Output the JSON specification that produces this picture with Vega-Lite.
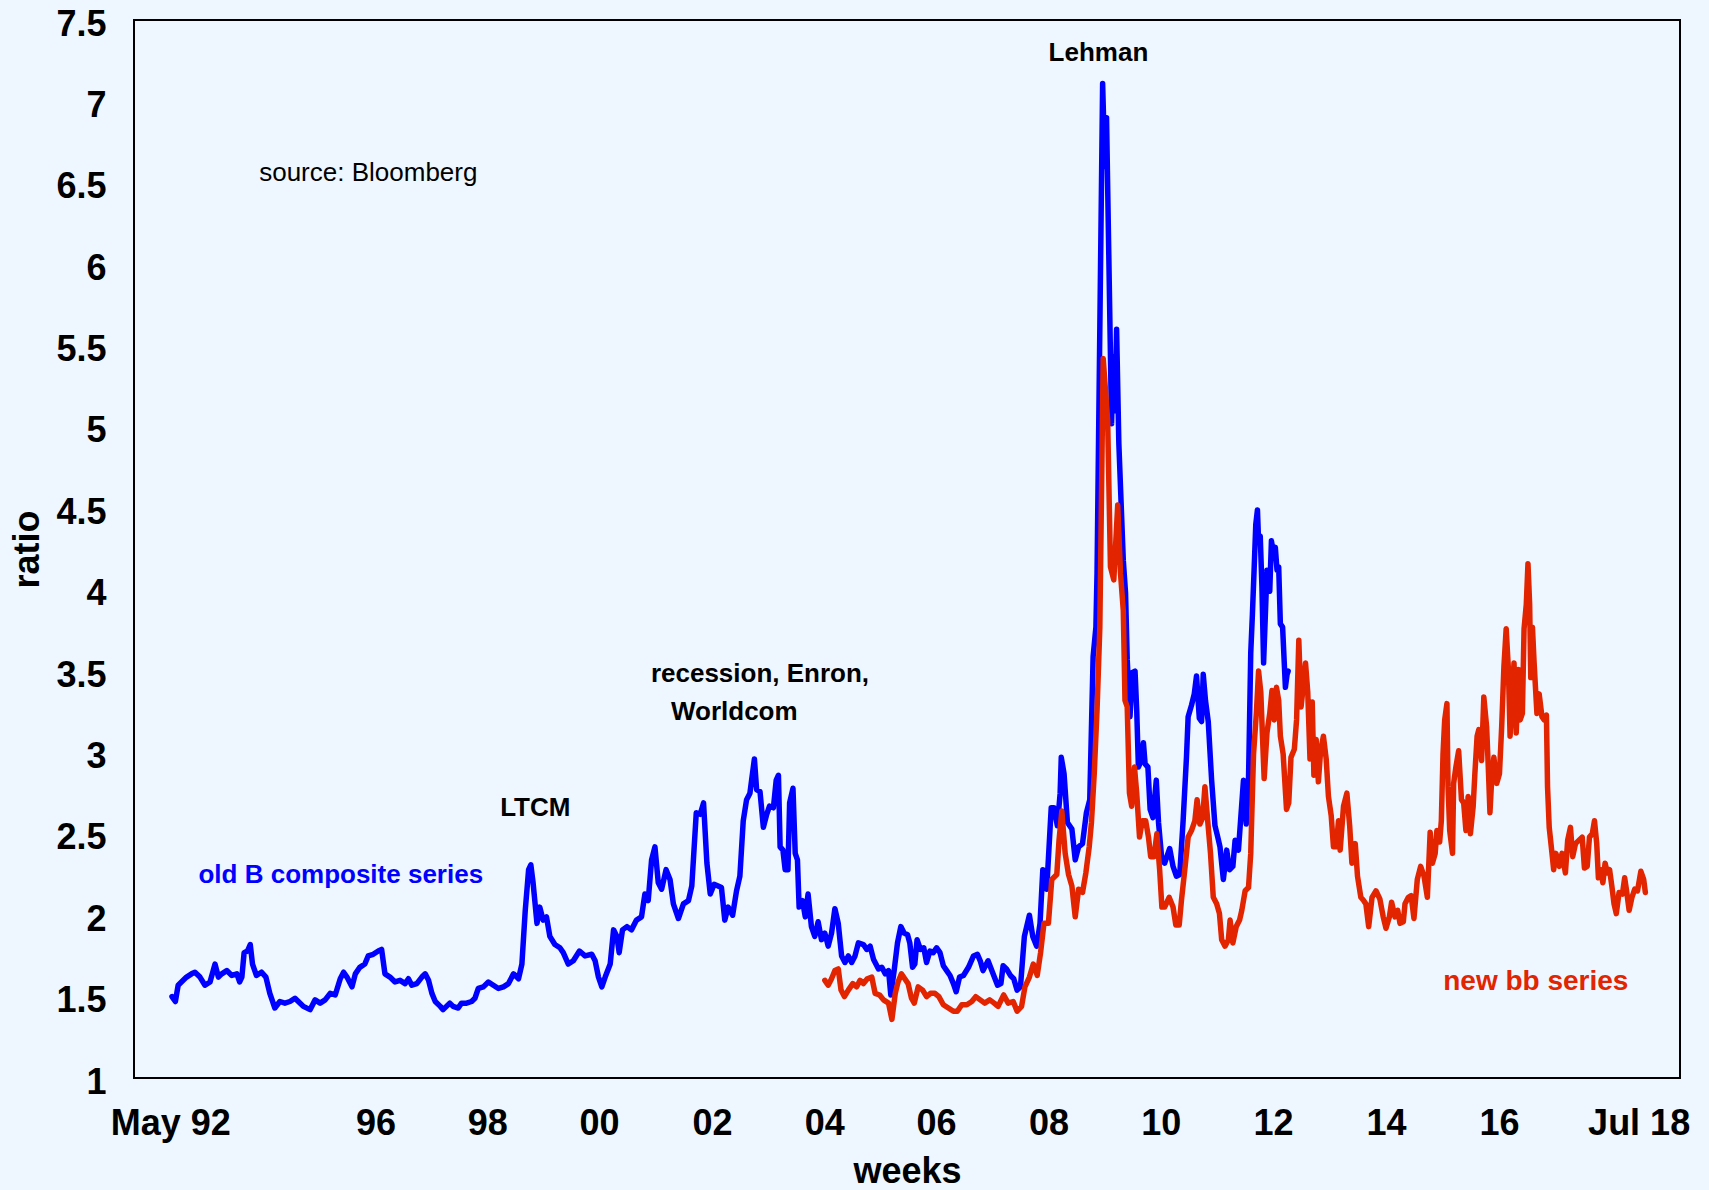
{
  "$schema": "https://vega.github.io/schema/vega-lite/v6.json",
  "width": 1546,
  "height": 1058,
  "autosize": {"type": "none"},
  "padding": {"left": 134, "top": 20, "right": 29, "bottom": 112},
  "background": "#eef7ff",
  "config": {"view": {"stroke": "#000000", "strokeWidth": 2}, "font": "Liberation Sans"},
  "datasets": {
    "old": [
      {"year":1992.36,"ratio":1.50},{"year":1992.42,"ratio":1.47},{"year":1992.47,"ratio":1.57},{"year":1992.56,"ratio":1.60},{"year":1992.62,"ratio":1.62},{"year":1992.71,"ratio":1.64},{"year":1992.77,"ratio":1.65},{"year":1992.86,"ratio":1.62},{"year":1992.95,"ratio":1.57},{"year":1993.04,"ratio":1.59},{"year":1993.13,"ratio":1.70},{"year":1993.19,"ratio":1.62},{"year":1993.25,"ratio":1.64},{"year":1993.34,"ratio":1.66},{"year":1993.43,"ratio":1.63},{"year":1993.52,"ratio":1.64},{"year":1993.57,"ratio":1.59},{"year":1993.61,"ratio":1.62},{"year":1993.65,"ratio":1.77},{"year":1993.71,"ratio":1.78},{"year":1993.76,"ratio":1.82},{"year":1993.80,"ratio":1.70},{"year":1993.87,"ratio":1.63},{"year":1993.96,"ratio":1.65},{"year":1994.04,"ratio":1.62},{"year":1994.11,"ratio":1.52},{"year":1994.20,"ratio":1.43},{"year":1994.29,"ratio":1.47},{"year":1994.38,"ratio":1.46},{"year":1994.47,"ratio":1.47},{"year":1994.56,"ratio":1.49},{"year":1994.62,"ratio":1.47},{"year":1994.71,"ratio":1.44},{"year":1994.83,"ratio":1.42},{"year":1994.92,"ratio":1.48},{"year":1995.01,"ratio":1.46},{"year":1995.10,"ratio":1.48},{"year":1995.19,"ratio":1.52},{"year":1995.28,"ratio":1.51},{"year":1995.37,"ratio":1.61},{"year":1995.43,"ratio":1.65},{"year":1995.49,"ratio":1.62},{"year":1995.58,"ratio":1.56},{"year":1995.64,"ratio":1.64},{"year":1995.72,"ratio":1.68},{"year":1995.81,"ratio":1.70},{"year":1995.87,"ratio":1.75},{"year":1995.96,"ratio":1.76},{"year":1996.05,"ratio":1.78},{"year":1996.11,"ratio":1.79},{"year":1996.17,"ratio":1.64},{"year":1996.26,"ratio":1.62},{"year":1996.35,"ratio":1.59},{"year":1996.44,"ratio":1.60},{"year":1996.53,"ratio":1.58},{"year":1996.59,"ratio":1.61},{"year":1996.65,"ratio":1.57},{"year":1996.74,"ratio":1.58},{"year":1996.83,"ratio":1.62},{"year":1996.89,"ratio":1.64},{"year":1996.95,"ratio":1.60},{"year":1997.01,"ratio":1.52},{"year":1997.07,"ratio":1.47},{"year":1997.16,"ratio":1.44},{"year":1997.21,"ratio":1.42},{"year":1997.27,"ratio":1.44},{"year":1997.33,"ratio":1.46},{"year":1997.39,"ratio":1.44},{"year":1997.48,"ratio":1.43},{"year":1997.54,"ratio":1.46},{"year":1997.63,"ratio":1.46},{"year":1997.72,"ratio":1.47},{"year":1997.78,"ratio":1.49},{"year":1997.84,"ratio":1.55},{"year":1997.93,"ratio":1.56},{"year":1998.02,"ratio":1.59},{"year":1998.11,"ratio":1.57},{"year":1998.20,"ratio":1.55},{"year":1998.29,"ratio":1.56},{"year":1998.38,"ratio":1.58},{"year":1998.47,"ratio":1.64},{"year":1998.56,"ratio":1.61},{"year":1998.62,"ratio":1.70},{"year":1998.68,"ratio":2.03},{"year":1998.74,"ratio":2.28},{"year":1998.78,"ratio":2.31},{"year":1998.82,"ratio":2.20},{"year":1998.89,"ratio":1.95},{"year":1998.94,"ratio":2.05},{"year":1999.00,"ratio":1.97},{"year":1999.06,"ratio":1.99},{"year":1999.12,"ratio":1.87},{"year":1999.21,"ratio":1.82},{"year":1999.30,"ratio":1.80},{"year":1999.36,"ratio":1.77},{"year":1999.45,"ratio":1.70},{"year":1999.54,"ratio":1.72},{"year":1999.65,"ratio":1.78},{"year":1999.75,"ratio":1.75},{"year":1999.87,"ratio":1.76},{"year":1999.93,"ratio":1.72},{"year":1999.99,"ratio":1.62},{"year":2000.05,"ratio":1.56},{"year":2000.11,"ratio":1.62},{"year":2000.20,"ratio":1.70},{"year":2000.26,"ratio":1.91},{"year":2000.32,"ratio":1.87},{"year":2000.36,"ratio":1.77},{"year":2000.42,"ratio":1.91},{"year":2000.50,"ratio":1.93},{"year":2000.58,"ratio":1.91},{"year":2000.67,"ratio":1.97},{"year":2000.76,"ratio":1.99},{"year":2000.82,"ratio":2.13},{"year":2000.88,"ratio":2.09},{"year":2000.94,"ratio":2.34},{"year":2001.00,"ratio":2.42},{"year":2001.06,"ratio":2.20},{"year":2001.12,"ratio":2.16},{"year":2001.20,"ratio":2.28},{"year":2001.27,"ratio":2.22},{"year":2001.33,"ratio":2.07},{"year":2001.42,"ratio":1.98},{"year":2001.51,"ratio":2.07},{"year":2001.60,"ratio":2.09},{"year":2001.66,"ratio":2.18},{"year":2001.74,"ratio":2.63},{"year":2001.81,"ratio":2.62},{"year":2001.87,"ratio":2.69},{"year":2001.93,"ratio":2.32},{"year":2001.99,"ratio":2.13},{"year":2002.06,"ratio":2.19},{"year":2002.13,"ratio":2.18},{"year":2002.19,"ratio":2.17},{"year":2002.25,"ratio":1.97},{"year":2002.31,"ratio":2.05},{"year":2002.39,"ratio":2.00},{"year":2002.46,"ratio":2.15},{"year":2002.52,"ratio":2.24},{"year":2002.58,"ratio":2.58},{"year":2002.64,"ratio":2.71},{"year":2002.70,"ratio":2.75},{"year":2002.73,"ratio":2.83},{"year":2002.78,"ratio":2.96},{"year":2002.82,"ratio":2.77},{"year":2002.88,"ratio":2.76},{"year":2002.94,"ratio":2.54},{"year":2003.00,"ratio":2.62},{"year":2003.05,"ratio":2.67},{"year":2003.12,"ratio":2.66},{"year":2003.17,"ratio":2.83},{"year":2003.21,"ratio":2.86},{"year":2003.24,"ratio":2.42},{"year":2003.29,"ratio":2.40},{"year":2003.33,"ratio":2.28},{"year":2003.38,"ratio":2.28},{"year":2003.41,"ratio":2.69},{"year":2003.47,"ratio":2.78},{"year":2003.51,"ratio":2.38},{"year":2003.55,"ratio":2.34},{"year":2003.58,"ratio":2.05},{"year":2003.64,"ratio":2.09},{"year":2003.69,"ratio":1.99},{"year":2003.74,"ratio":2.13},{"year":2003.80,"ratio":1.93},{"year":2003.86,"ratio":1.87},{"year":2003.92,"ratio":1.96},{"year":2003.98,"ratio":1.85},{"year":2004.04,"ratio":1.89},{"year":2004.10,"ratio":1.81},{"year":2004.16,"ratio":1.89},{"year":2004.22,"ratio":2.04},{"year":2004.28,"ratio":1.95},{"year":2004.34,"ratio":1.75},{"year":2004.40,"ratio":1.71},{"year":2004.46,"ratio":1.75},{"year":2004.52,"ratio":1.71},{"year":2004.58,"ratio":1.75},{"year":2004.64,"ratio":1.83},{"year":2004.73,"ratio":1.82},{"year":2004.79,"ratio":1.79},{"year":2004.85,"ratio":1.81},{"year":2004.91,"ratio":1.73},{"year":2005.00,"ratio":1.67},{"year":2005.06,"ratio":1.68},{"year":2005.12,"ratio":1.64},{"year":2005.18,"ratio":1.66},{"year":2005.22,"ratio":1.51},{"year":2005.28,"ratio":1.66},{"year":2005.34,"ratio":1.83},{"year":2005.40,"ratio":1.93},{"year":2005.46,"ratio":1.89},{"year":2005.52,"ratio":1.88},{"year":2005.56,"ratio":1.83},{"year":2005.61,"ratio":1.68},{"year":2005.65,"ratio":1.70},{"year":2005.69,"ratio":1.85},{"year":2005.75,"ratio":1.79},{"year":2005.81,"ratio":1.80},{"year":2005.86,"ratio":1.71},{"year":2005.92,"ratio":1.78},{"year":2005.98,"ratio":1.77},{"year":2006.04,"ratio":1.80},{"year":2006.10,"ratio":1.77},{"year":2006.16,"ratio":1.69},{"year":2006.22,"ratio":1.66},{"year":2006.28,"ratio":1.63},{"year":2006.34,"ratio":1.58},{"year":2006.39,"ratio":1.53},{"year":2006.45,"ratio":1.62},{"year":2006.52,"ratio":1.63},{"year":2006.61,"ratio":1.68},{"year":2006.70,"ratio":1.75},{"year":2006.77,"ratio":1.76},{"year":2006.82,"ratio":1.72},{"year":2006.87,"ratio":1.66},{"year":2006.96,"ratio":1.72},{"year":2007.05,"ratio":1.64},{"year":2007.13,"ratio":1.57},{"year":2007.19,"ratio":1.58},{"year":2007.23,"ratio":1.69},{"year":2007.29,"ratio":1.67},{"year":2007.36,"ratio":1.63},{"year":2007.42,"ratio":1.61},{"year":2007.48,"ratio":1.54},{"year":2007.54,"ratio":1.56},{"year":2007.61,"ratio":1.87},{"year":2007.70,"ratio":2.00},{"year":2007.76,"ratio":1.87},{"year":2007.83,"ratio":1.81},{"year":2007.89,"ratio":1.95},{"year":2007.94,"ratio":2.28},{"year":2008.01,"ratio":2.16},{"year":2008.09,"ratio":2.66},{"year":2008.14,"ratio":2.66},{"year":2008.20,"ratio":2.55},{"year":2008.25,"ratio":2.75},{"year":2008.27,"ratio":2.97},{"year":2008.32,"ratio":2.87},{"year":2008.38,"ratio":2.57},{"year":2008.46,"ratio":2.53},{"year":2008.52,"ratio":2.34},{"year":2008.58,"ratio":2.42},{"year":2008.65,"ratio":2.44},{"year":2008.72,"ratio":2.63},{"year":2008.78,"ratio":2.71},{"year":2008.84,"ratio":3.59},{"year":2008.89,"ratio":3.77},{"year":2008.91,"ratio":4.10},{"year":2009.01,"ratio":7.11},{"year":2009.05,"ratio":6.60},{"year":2009.08,"ratio":6.90},{"year":2009.17,"ratio":5.02},{"year":2009.20,"ratio":5.43},{"year":2009.23,"ratio":5.10},{"year":2009.26,"ratio":5.60},{"year":2009.30,"ratio":4.90},{"year":2009.38,"ratio":4.18},{"year":2009.42,"ratio":3.98},{"year":2009.45,"ratio":3.57},{"year":2009.50,"ratio":3.22},{"year":2009.54,"ratio":3.49},{"year":2009.59,"ratio":3.50},{"year":2009.62,"ratio":3.26},{"year":2009.65,"ratio":2.91},{"year":2009.69,"ratio":2.94},{"year":2009.74,"ratio":3.06},{"year":2009.77,"ratio":2.93},{"year":2009.82,"ratio":2.91},{"year":2009.86,"ratio":2.65},{"year":2009.91,"ratio":2.60},{"year":2009.97,"ratio":2.83},{"year":2010.01,"ratio":2.57},{"year":2010.07,"ratio":2.34},{"year":2010.12,"ratio":2.32},{"year":2010.21,"ratio":2.41},{"year":2010.27,"ratio":2.30},{"year":2010.33,"ratio":2.24},{"year":2010.39,"ratio":2.25},{"year":2010.45,"ratio":2.58},{"year":2010.51,"ratio":2.97},{"year":2010.54,"ratio":3.22},{"year":2010.60,"ratio":3.29},{"year":2010.65,"ratio":3.36},{"year":2010.69,"ratio":3.47},{"year":2010.74,"ratio":3.21},{"year":2010.78,"ratio":3.19},{"year":2010.81,"ratio":3.48},{"year":2010.85,"ratio":3.32},{"year":2010.90,"ratio":3.19},{"year":2010.96,"ratio":2.83},{"year":2011.02,"ratio":2.55},{"year":2011.07,"ratio":2.48},{"year":2011.11,"ratio":2.42},{"year":2011.17,"ratio":2.22},{"year":2011.23,"ratio":2.40},{"year":2011.28,"ratio":2.28},{"year":2011.34,"ratio":2.30},{"year":2011.38,"ratio":2.46},{"year":2011.44,"ratio":2.40},{"year":2011.53,"ratio":2.83},{"year":2011.58,"ratio":2.56},{"year":2011.62,"ratio":2.83},{"year":2011.66,"ratio":3.61},{"year":2011.69,"ratio":3.85},{"year":2011.72,"ratio":4.12},{"year":2011.75,"ratio":4.40},{"year":2011.78,"ratio":4.49},{"year":2011.80,"ratio":4.30},{"year":2011.83,"ratio":4.33},{"year":2011.86,"ratio":4.02},{"year":2011.89,"ratio":3.55},{"year":2011.92,"ratio":3.83},{"year":2011.95,"ratio":4.12},{"year":2012.00,"ratio":3.99},{"year":2012.03,"ratio":4.30},{"year":2012.07,"ratio":4.22},{"year":2012.10,"ratio":4.26},{"year":2012.13,"ratio":4.12},{"year":2012.16,"ratio":4.14},{"year":2012.19,"ratio":3.79},{"year":2012.23,"ratio":3.77},{"year":2012.28,"ratio":3.40},{"year":2012.31,"ratio":3.48},{"year":2012.33,"ratio":3.50}
    ],
    "new": [
      {"year":2004.04,"ratio":1.60},{"year":2004.10,"ratio":1.57},{"year":2004.16,"ratio":1.61},{"year":2004.22,"ratio":1.66},{"year":2004.28,"ratio":1.67},{"year":2004.33,"ratio":1.54},{"year":2004.39,"ratio":1.50},{"year":2004.46,"ratio":1.54},{"year":2004.54,"ratio":1.58},{"year":2004.61,"ratio":1.56},{"year":2004.67,"ratio":1.60},{"year":2004.73,"ratio":1.58},{"year":2004.80,"ratio":1.61},{"year":2004.88,"ratio":1.62},{"year":2004.94,"ratio":1.52},{"year":2005.02,"ratio":1.51},{"year":2005.09,"ratio":1.48},{"year":2005.18,"ratio":1.46},{"year":2005.24,"ratio":1.36},{"year":2005.30,"ratio":1.52},{"year":2005.35,"ratio":1.59},{"year":2005.41,"ratio":1.64},{"year":2005.47,"ratio":1.61},{"year":2005.53,"ratio":1.58},{"year":2005.59,"ratio":1.49},{"year":2005.64,"ratio":1.46},{"year":2005.71,"ratio":1.56},{"year":2005.79,"ratio":1.54},{"year":2005.86,"ratio":1.50},{"year":2005.93,"ratio":1.52},{"year":2006.01,"ratio":1.52},{"year":2006.08,"ratio":1.50},{"year":2006.16,"ratio":1.45},{"year":2006.25,"ratio":1.43},{"year":2006.34,"ratio":1.41},{"year":2006.41,"ratio":1.41},{"year":2006.49,"ratio":1.45},{"year":2006.58,"ratio":1.45},{"year":2006.67,"ratio":1.47},{"year":2006.74,"ratio":1.50},{"year":2006.82,"ratio":1.48},{"year":2006.90,"ratio":1.46},{"year":2006.99,"ratio":1.48},{"year":2007.07,"ratio":1.46},{"year":2007.14,"ratio":1.44},{"year":2007.24,"ratio":1.51},{"year":2007.32,"ratio":1.46},{"year":2007.41,"ratio":1.47},{"year":2007.48,"ratio":1.41},{"year":2007.56,"ratio":1.44},{"year":2007.62,"ratio":1.56},{"year":2007.70,"ratio":1.62},{"year":2007.77,"ratio":1.70},{"year":2007.84,"ratio":1.63},{"year":2007.90,"ratio":1.77},{"year":2007.96,"ratio":1.95},{"year":2008.04,"ratio":1.95},{"year":2008.10,"ratio":2.22},{"year":2008.19,"ratio":2.25},{"year":2008.23,"ratio":2.46},{"year":2008.28,"ratio":2.64},{"year":2008.34,"ratio":2.38},{"year":2008.40,"ratio":2.25},{"year":2008.46,"ratio":2.18},{"year":2008.52,"ratio":1.99},{"year":2008.58,"ratio":2.16},{"year":2008.65,"ratio":2.14},{"year":2008.71,"ratio":2.26},{"year":2008.77,"ratio":2.42},{"year":2008.81,"ratio":2.57},{"year":2008.86,"ratio":2.87},{"year":2008.91,"ratio":3.26},{"year":2008.96,"ratio":3.77},{"year":2009.02,"ratio":5.42},{"year":2009.10,"ratio":5.04},{"year":2009.15,"ratio":4.14},{"year":2009.21,"ratio":4.06},{"year":2009.28,"ratio":4.52},{"year":2009.33,"ratio":4.10},{"year":2009.38,"ratio":3.87},{"year":2009.41,"ratio":3.32},{"year":2009.45,"ratio":3.28},{"year":2009.49,"ratio":2.75},{"year":2009.53,"ratio":2.67},{"year":2009.58,"ratio":2.91},{"year":2009.62,"ratio":2.75},{"year":2009.67,"ratio":2.48},{"year":2009.72,"ratio":2.58},{"year":2009.78,"ratio":2.58},{"year":2009.83,"ratio":2.48},{"year":2009.87,"ratio":2.36},{"year":2009.93,"ratio":2.36},{"year":2009.98,"ratio":2.50},{"year":2010.03,"ratio":2.28},{"year":2010.07,"ratio":2.05},{"year":2010.12,"ratio":2.05},{"year":2010.20,"ratio":2.11},{"year":2010.27,"ratio":2.05},{"year":2010.32,"ratio":1.94},{"year":2010.38,"ratio":1.94},{"year":2010.42,"ratio":2.09},{"year":2010.48,"ratio":2.28},{"year":2010.54,"ratio":2.48},{"year":2010.60,"ratio":2.52},{"year":2010.66,"ratio":2.58},{"year":2010.70,"ratio":2.71},{"year":2010.75,"ratio":2.56},{"year":2010.80,"ratio":2.60},{"year":2010.84,"ratio":2.79},{"year":2010.89,"ratio":2.58},{"year":2010.94,"ratio":2.38},{"year":2010.99,"ratio":2.11},{"year":2011.05,"ratio":2.07},{"year":2011.10,"ratio":2.01},{"year":2011.14,"ratio":1.85},{"year":2011.20,"ratio":1.81},{"year":2011.26,"ratio":1.85},{"year":2011.29,"ratio":1.97},{"year":2011.34,"ratio":1.83},{"year":2011.40,"ratio":1.93},{"year":2011.46,"ratio":1.97},{"year":2011.50,"ratio":2.03},{"year":2011.56,"ratio":2.15},{"year":2011.62,"ratio":2.17},{"year":2011.66,"ratio":2.38},{"year":2011.69,"ratio":2.75},{"year":2011.71,"ratio":2.99},{"year":2011.76,"ratio":3.24},{"year":2011.80,"ratio":3.50},{"year":2011.84,"ratio":3.37},{"year":2011.87,"ratio":3.10},{"year":2011.90,"ratio":2.84},{"year":2011.95,"ratio":3.12},{"year":2012.00,"ratio":3.24},{"year":2012.04,"ratio":3.38},{"year":2012.08,"ratio":3.20},{"year":2012.12,"ratio":3.40},{"year":2012.16,"ratio":3.32},{"year":2012.19,"ratio":3.10},{"year":2012.24,"ratio":2.99},{"year":2012.30,"ratio":2.65},{"year":2012.34,"ratio":2.69},{"year":2012.38,"ratio":2.97},{"year":2012.44,"ratio":3.02},{"year":2012.48,"ratio":3.20},{"year":2012.52,"ratio":3.69},{"year":2012.56,"ratio":3.28},{"year":2012.61,"ratio":3.44},{"year":2012.64,"ratio":3.55},{"year":2012.68,"ratio":3.37},{"year":2012.72,"ratio":2.96},{"year":2012.76,"ratio":3.31},{"year":2012.79,"ratio":2.86},{"year":2012.83,"ratio":3.08},{"year":2012.87,"ratio":2.82},{"year":2012.91,"ratio":3.01},{"year":2012.96,"ratio":3.10},{"year":2013.01,"ratio":2.96},{"year":2013.05,"ratio":2.73},{"year":2013.10,"ratio":2.61},{"year":2013.14,"ratio":2.42},{"year":2013.19,"ratio":2.42},{"year":2013.23,"ratio":2.58},{"year":2013.26,"ratio":2.40},{"year":2013.32,"ratio":2.67},{"year":2013.38,"ratio":2.75},{"year":2013.43,"ratio":2.55},{"year":2013.47,"ratio":2.32},{"year":2013.53,"ratio":2.44},{"year":2013.57,"ratio":2.24},{"year":2013.63,"ratio":2.11},{"year":2013.68,"ratio":2.09},{"year":2013.72,"ratio":2.07},{"year":2013.77,"ratio":1.93},{"year":2013.83,"ratio":2.11},{"year":2013.90,"ratio":2.15},{"year":2013.97,"ratio":2.10},{"year":2014.03,"ratio":1.99},{"year":2014.08,"ratio":1.92},{"year":2014.14,"ratio":1.99},{"year":2014.18,"ratio":2.08},{"year":2014.24,"ratio":1.99},{"year":2014.29,"ratio":2.03},{"year":2014.33,"ratio":1.95},{"year":2014.39,"ratio":1.96},{"year":2014.42,"ratio":2.07},{"year":2014.48,"ratio":2.11},{"year":2014.53,"ratio":2.12},{"year":2014.58,"ratio":1.98},{"year":2014.64,"ratio":2.22},{"year":2014.70,"ratio":2.30},{"year":2014.76,"ratio":2.24},{"year":2014.82,"ratio":2.11},{"year":2014.87,"ratio":2.51},{"year":2014.91,"ratio":2.32},{"year":2014.96,"ratio":2.38},{"year":2014.99,"ratio":2.52},{"year":2015.04,"ratio":2.45},{"year":2015.07,"ratio":2.58},{"year":2015.10,"ratio":2.99},{"year":2015.13,"ratio":3.20},{"year":2015.17,"ratio":3.30},{"year":2015.19,"ratio":2.79},{"year":2015.22,"ratio":2.52},{"year":2015.27,"ratio":2.38},{"year":2015.29,"ratio":2.81},{"year":2015.33,"ratio":2.91},{"year":2015.38,"ratio":3.01},{"year":2015.40,"ratio":2.89},{"year":2015.43,"ratio":2.71},{"year":2015.47,"ratio":2.69},{"year":2015.51,"ratio":2.52},{"year":2015.55,"ratio":2.73},{"year":2015.59,"ratio":2.50},{"year":2015.64,"ratio":2.67},{"year":2015.67,"ratio":2.87},{"year":2015.71,"ratio":3.10},{"year":2015.74,"ratio":3.14},{"year":2015.79,"ratio":2.95},{"year":2015.83,"ratio":3.34},{"year":2015.88,"ratio":3.16},{"year":2015.91,"ratio":2.91},{"year":2015.94,"ratio":2.63},{"year":2015.97,"ratio":2.83},{"year":2016.01,"ratio":2.97},{"year":2016.06,"ratio":2.81},{"year":2016.11,"ratio":2.87},{"year":2016.15,"ratio":3.16},{"year":2016.19,"ratio":3.53},{"year":2016.23,"ratio":3.76},{"year":2016.27,"ratio":3.51},{"year":2016.30,"ratio":3.10},{"year":2016.33,"ratio":3.30},{"year":2016.37,"ratio":3.55},{"year":2016.41,"ratio":3.12},{"year":2016.45,"ratio":3.51},{"year":2016.48,"ratio":3.20},{"year":2016.52,"ratio":3.24},{"year":2016.55,"ratio":3.76},{"year":2016.59,"ratio":3.91},{"year":2016.62,"ratio":4.16},{"year":2016.65,"ratio":3.91},{"year":2016.67,"ratio":3.46},{"year":2016.70,"ratio":3.77},{"year":2016.73,"ratio":3.55},{"year":2016.78,"ratio":3.24},{"year":2016.82,"ratio":3.36},{"year":2016.87,"ratio":3.22},{"year":2016.91,"ratio":3.20},{"year":2016.95,"ratio":3.23},{"year":2016.97,"ratio":2.79},{"year":2017.00,"ratio":2.54},{"year":2017.05,"ratio":2.38},{"year":2017.08,"ratio":2.28},{"year":2017.12,"ratio":2.38},{"year":2017.18,"ratio":2.30},{"year":2017.23,"ratio":2.38},{"year":2017.29,"ratio":2.26},{"year":2017.33,"ratio":2.46},{"year":2017.38,"ratio":2.54},{"year":2017.42,"ratio":2.36},{"year":2017.47,"ratio":2.44},{"year":2017.53,"ratio":2.46},{"year":2017.59,"ratio":2.48},{"year":2017.63,"ratio":2.29},{"year":2017.68,"ratio":2.30},{"year":2017.72,"ratio":2.48},{"year":2017.77,"ratio":2.50},{"year":2017.81,"ratio":2.58},{"year":2017.85,"ratio":2.44},{"year":2017.88,"ratio":2.23},{"year":2017.92,"ratio":2.28},{"year":2017.96,"ratio":2.20},{"year":2018.00,"ratio":2.32},{"year":2018.04,"ratio":2.26},{"year":2018.08,"ratio":2.28},{"year":2018.12,"ratio":2.18},{"year":2018.16,"ratio":2.07},{"year":2018.20,"ratio":2.01},{"year":2018.25,"ratio":2.14},{"year":2018.31,"ratio":2.13},{"year":2018.35,"ratio":2.23},{"year":2018.38,"ratio":2.16},{"year":2018.43,"ratio":2.03},{"year":2018.48,"ratio":2.11},{"year":2018.53,"ratio":2.16},{"year":2018.58,"ratio":2.15},{"year":2018.64,"ratio":2.27},{"year":2018.69,"ratio":2.22},{"year":2018.72,"ratio":2.14}
    ]
  },
  "layer": [
    {
      "data": {"name": "old"},
      "mark": {"type": "line", "color": "#0000ff", "strokeWidth": 5.5, "strokeJoin": "round", "strokeCap": "round"},
      "encoding": {
        "x": {
          "field": "year", "type": "quantitative",
          "scale": {"domain": [1991.68, 2019.34], "nice": false, "zero": false},
          "axis": {
            "values": [1992.33, 1996, 1998, 2000, 2002.02, 2004.03, 2006.03, 2008.04, 2010.05, 2012.06, 2014.08, 2016.1, 2018.6],
            "labelExpr": "datum.value < 1993 ? 'May 92' : (datum.value > 2018 ? 'Jul 18' : format(floor(datum.value + 0.3) % 100, '02d'))",
            "domain": false, "ticks": false, "tickSize": 0, "grid": false,
            "labelFont": "Liberation Sans", "labelFontWeight": "bold", "labelFontSize": 36, "labelColor": "#000000",
            "labelPadding": 56, "labelBaseline": "alphabetic", "labelFlush": false, "labelOverlap": false, "labelBound": false,
            "title": "weeks", "titleFont": "Liberation Sans", "titleFontSize": 36, "titleFontWeight": "bold", "titleColor": "#000000",
            "titleY": 104, "titleBaseline": "alphabetic"
          }
        },
        "y": {
          "field": "ratio", "type": "quantitative",
          "scale": {"domain": [1, 7.5], "nice": false, "zero": false},
          "axis": {
            "values": [1, 1.5, 2, 2.5, 3, 3.5, 4, 4.5, 5, 5.5, 6, 6.5, 7, 7.5],
            "format": ".1~f",
            "domain": false, "ticks": false, "tickSize": 0, "grid": false,
            "labelFont": "Liberation Sans", "labelFontWeight": "bold", "labelFontSize": 36, "labelColor": "#000000",
            "labelPadding": 28, "labelOffset": 4, "labelFlush": false, "labelOverlap": false, "labelBound": false,
            "title": "ratio", "titleFont": "Liberation Sans", "titleFontSize": 36, "titleFontWeight": "bold", "titleColor": "#000000",
            "titleX": -96, "titleY": 529, "titleBaseline": "alphabetic", "titleAngle": 270
          }
        }
      }
    },
    {
      "data": {"name": "new"},
      "mark": {"type": "line", "color": "#e22400", "strokeWidth": 5.5, "strokeJoin": "round", "strokeCap": "round"},
      "encoding": {
        "x": {"field": "year", "type": "quantitative"},
        "y": {"field": "ratio", "type": "quantitative"}
      }
    },
    {
      "data": {"values": [
        {"year": 2008.935, "ratio": 7.25, "label": "Lehman"},
        {"year": 1998.86, "ratio": 2.61, "label": "LTCM"},
        {"year": 2002.88, "ratio": 3.434, "label": "recession, Enron,"},
        {"year": 2002.42, "ratio": 3.199, "label": "Worldcom"}
      ]},
      "mark": {"type": "text", "font": "Liberation Sans", "fontWeight": "bold", "fontSize": 26, "color": "#000000", "align": "center", "baseline": "alphabetic"},
      "encoding": {
        "x": {"field": "year", "type": "quantitative"},
        "y": {"field": "ratio", "type": "quantitative"},
        "text": {"field": "label"}
      }
    },
    {
      "data": {"values": [{"year": 1993.92, "ratio": 6.51, "label": "source: Bloomberg"}]},
      "mark": {"type": "text", "font": "Liberation Sans", "fontSize": 26, "color": "#000000", "align": "left", "baseline": "alphabetic"},
      "encoding": {
        "x": {"field": "year", "type": "quantitative"},
        "y": {"field": "ratio", "type": "quantitative"},
        "text": {"field": "label"}
      }
    },
    {
      "data": {"values": [{"year": 1995.38, "ratio": 2.196, "label": "old B composite series"}]},
      "mark": {"type": "text", "font": "Liberation Sans", "fontWeight": "bold", "fontSize": 26, "color": "#0000ff", "align": "center", "baseline": "alphabetic"},
      "encoding": {
        "x": {"field": "year", "type": "quantitative"},
        "y": {"field": "ratio", "type": "quantitative"},
        "text": {"field": "label"}
      }
    },
    {
      "data": {"values": [{"year": 2016.76, "ratio": 1.54, "label": "new bb series"}]},
      "mark": {"type": "text", "font": "Liberation Sans", "fontWeight": "bold", "fontSize": 28, "color": "#e22400", "align": "center", "baseline": "alphabetic"},
      "encoding": {
        "x": {"field": "year", "type": "quantitative"},
        "y": {"field": "ratio", "type": "quantitative"},
        "text": {"field": "label"}
      }
    }
  ]
}
